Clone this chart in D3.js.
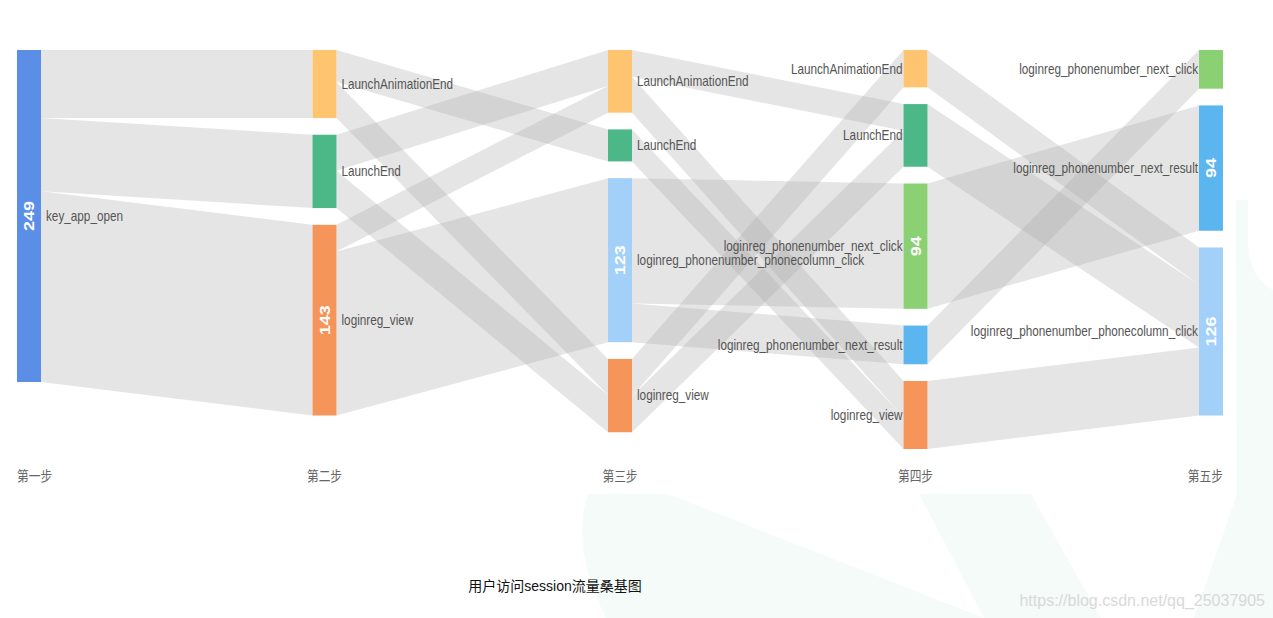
<!DOCTYPE html>
<html>
<head>
<meta charset="utf-8">
<script src="https://cdn.jsdelivr.net/npm/d3@7"></script>
<style>
  html, body { margin: 0; padding: 0; background: #ffffff; }
  svg { display: block; }
</style>
</head>
<body>
<svg id="chart" width="1273" height="618"></svg>
<script>
// ---------------- data ----------------
const stepLabels = ["第一步", "第二步", "第三步", "第四步", "第五步"];

const step1Nodes = ["key_app_open"];
const step2Nodes = ["LaunchAnimationEnd", "LaunchEnd", "loginreg_view"];
const step3Nodes = ["LaunchAnimationEnd", "LaunchEnd", "loginreg_phonenumber_phonecolumn_click", "loginreg_view"];
const step4Nodes = ["LaunchAnimationEnd", "LaunchEnd", "loginreg_phonenumber_next_click", "loginreg_phonenumber_next_result", "loginreg_view"];
const step5Nodes = ["loginreg_phonenumber_next_click", "loginreg_phonenumber_next_result", "loginreg_phonenumber_phonecolumn_click"];

// [source, target, value] between consecutive steps
const links1to2 = [
  ["key_app_open", "LaunchAnimationEnd", 51],
  ["key_app_open", "LaunchEnd", 55],
  ["key_app_open", "loginreg_view", 143]
];
const links2to3 = [
  ["LaunchAnimationEnd", "LaunchEnd", 24],
  ["LaunchAnimationEnd", "loginreg_view", 27],
  ["LaunchEnd", "LaunchAnimationEnd", 27],
  ["LaunchEnd", "loginreg_view", 28],
  ["loginreg_view", "LaunchAnimationEnd", 20],
  ["loginreg_view", "loginreg_phonenumber_phonecolumn_click", 123]
];
const links3to4 = [
  ["LaunchAnimationEnd", "LaunchEnd", 20],
  ["LaunchAnimationEnd", "loginreg_view", 27],
  ["LaunchEnd", "loginreg_view", 24],
  ["loginreg_phonenumber_phonecolumn_click", "loginreg_phonenumber_next_click", 94],
  ["loginreg_phonenumber_phonecolumn_click", "loginreg_phonenumber_next_result", 29],
  ["loginreg_view", "LaunchAnimationEnd", 28],
  ["loginreg_view", "LaunchEnd", 27]
];
const links4to5 = [
  ["LaunchAnimationEnd", "loginreg_phonenumber_phonecolumn_click", 28],
  ["LaunchEnd", "loginreg_phonenumber_phonecolumn_click", 47],
  ["loginreg_phonenumber_next_click", "loginreg_phonenumber_next_result", 94],
  ["loginreg_phonenumber_next_result", "loginreg_phonenumber_next_click", 29],
  ["loginreg_view", "loginreg_phonenumber_phonecolumn_click", 51]
];

const titleText = "用户访问session流量桑基图";
const watermarkText = "https://blog.csdn.net/qq_25037905";

// ---------------- style ----------------
const nodeColors = {
  "key_app_open": "#5b8ee6",
  "LaunchAnimationEnd": "#fec46f",
  "LaunchEnd": "#4db887",
  "loginreg_view": "#f6955a",
  "loginreg_phonenumber_phonecolumn_click": "#a2d0f8",
  "loginreg_phonenumber_next_click": "#8bd174",
  "loginreg_phonenumber_next_result": "#5bb5ef"
};
const SX = 0.84;           // horizontal squeeze of the original picture
const latin = "'Liberation Sans', Arial, 'Noto Sans CJK SC', sans-serif";
const cjk = "'Liberation Sans', 'Noto Sans CJK SC', sans-serif";

// ---------------- build graph ----------------
const columns = [step1Nodes, step2Nodes, step3Nodes, step4Nodes, step5Nodes];
const linkSets = [links1to2, links2to3, links3to4, links4to5];

const nodes = [];
const nodeById = {};
columns.forEach((col, ci) => col.forEach((name, k) => {
  const n = { id: ci + ":" + name, name, col: ci, order: k, inLinks: [], outLinks: [] };
  nodes.push(n); nodeById[n.id] = n;
}));
const links = [];
linkSets.forEach((set, si) => set.forEach(([s, t, v]) => {
  const l = { source: nodeById[si + ":" + s], target: nodeById[(si + 1) + ":" + t], value: v };
  l.source.outLinks.push(l); l.target.inLinks.push(l); links.push(l);
}));
nodes.forEach(n => {
  n.value = Math.max(d3.sum(n.inLinks, l => l.value), d3.sum(n.outLinks, l => l.value));
});

// ---------------- layout ----------------
const areaTop = 50, areaBottom = 449, nodeW = 24, nodeGap = 16.75;
const xPos = d3.scaleLinear().domain([0, 4]).range([17, 1199]);
const ky = d3.min(columns.map((col, ci) => {
  const tot = d3.sum(nodes.filter(n => n.col === ci), n => n.value);
  return (areaBottom - areaTop - (col.length - 1) * nodeGap) / tot;
}));
const hScale = d3.scaleLinear().domain([0, 1]).range([0, ky]);

columns.forEach((col, ci) => {
  let y = areaTop;
  nodes.filter(n => n.col === ci).forEach(n => {
    n.x0 = xPos(ci); n.x1 = n.x0 + nodeW;
    n.y0 = y; n.y1 = y + hScale(n.value);
    y = n.y1 + nodeGap;
  });
});
nodes.forEach(n => {
  n.outLinks.sort((a, b) => a.target.y0 - b.target.y0);
  n.inLinks.sort((a, b) => a.source.y0 - b.source.y0);
  let y = n.y0;
  n.outLinks.forEach(l => { l.sy0 = y; y += hScale(l.value); l.sy1 = y; });
  y = n.y0;
  n.inLinks.forEach(l => { l.ty0 = y; y += hScale(l.value); l.ty1 = y; });
});

// ---------------- draw ----------------
const svg = d3.select("#chart");

// faint background decoration (outside the white chart panel)
const deco = svg.append("g").attr("fill", "#f4fbf8");
deco.append("path").attr("d", "M588,494 Q570,545 606,618 L984,618 L668,494 Z");
deco.append("path").attr("d", "M919,494 L984,618 L1101,618 L1031,494 Z");
deco.append("path").attr("d", "M1236,200 L1273,200 L1273,618 L1194,618 L1237,494 Z");
svg.append("path").attr("fill", "#ffffff")
  .attr("d", "M1248,200 L1248,245 Q1250,278 1273,290 L1273,200 Z");
svg.append("rect").attr("x", 0).attr("y", 0).attr("width", 1235).attr("height", 494)
  .attr("rx", 6).attr("fill", "#ffffff");

// links
const lineGen = d3.line();
svg.append("g").selectAll("path").data(links).join("path")
  .attr("d", l => {
    const x1 = l.source.x1, x2 = l.target.x0;
    return lineGen([[x1, l.sy0], [x2, l.ty0], [x2, l.ty1], [x1, l.sy1]]) + "Z";
  })
  .attr("fill", "#aaaaaa")
  .attr("fill-opacity", 0.3);

// nodes
svg.append("g").selectAll("rect").data(nodes).join("rect")
  .attr("x", n => n.x0).attr("y", n => n.y0)
  .attr("width", nodeW).attr("height", n => n.y1 - n.y0)
  .attr("fill", n => nodeColors[n.name]);

// value labels inside big nodes
svg.append("g").selectAll("text").data(nodes.filter(n => n.value > 60)).join("text")
  .attr("transform", n => `translate(${(n.x0 + n.x1) / 2},${(n.y0 + n.y1) / 2}) scale(${SX},1) rotate(-90)`)
  .attr("text-anchor", "middle").attr("dy", "0.36em")
  .attr("fill", "#ffffff").attr("font-family", latin)
  .attr("font-size", 18).attr("font-weight", "bold")
  .text(n => n.value);

// name labels
svg.append("g").selectAll("text").data(nodes).join("text")
  .attr("transform", n => {
    const lx = n.col <= 2 ? n.x1 + 5 : n.x0 - 1;
    return `translate(${lx},${(n.y0 + n.y1) / 2}) scale(${SX},1)`;
  })
  .attr("text-anchor", n => n.col <= 2 ? "start" : "end")
  .attr("dy", "0.35em")
  .attr("fill", "#555555").attr("font-family", latin).attr("font-size", 14)
  .text(n => n.name);

// step labels
svg.append("g").selectAll("text").data(stepLabels).join("text")
  .attr("transform", (s, i) => {
    const px = i === 0 ? xPos(i) : i === stepLabels.length - 1 ? xPos(i) + nodeW : xPos(i) + nodeW / 2;
    return `translate(${px},476) scale(${SX},1)`;
  })
  .attr("text-anchor", (s, i) => i === 0 ? "start" : i === stepLabels.length - 1 ? "end" : "middle")
  .attr("dy", "0.35em")
  .attr("fill", "#666666").attr("font-family", cjk).attr("font-size", 14)
  .text(s => s);

// caption
svg.append("text").attr("x", 555).attr("y", 586).attr("dy", "0.35em")
  .attr("text-anchor", "middle").attr("fill", "#111111")
  .attr("font-family", cjk).attr("font-size", 14)
  .text(titleText);

// watermark
svg.append("text").attr("x", 1265).attr("y", 600).attr("dy", "0.35em")
  .attr("text-anchor", "end").attr("fill", "#d9d9d9")
  .attr("font-family", latin).attr("font-size", 16)
  .text(watermarkText);
</script>
</body>
</html>
